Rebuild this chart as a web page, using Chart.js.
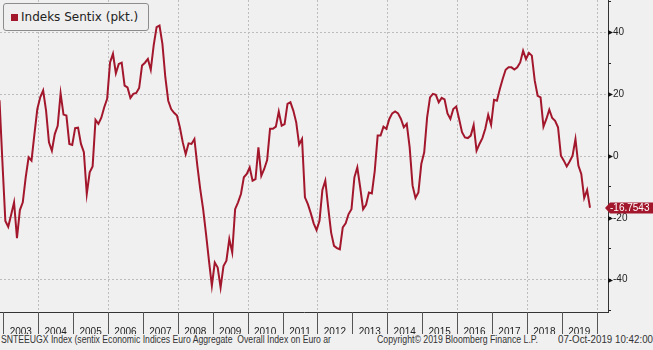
<!DOCTYPE html>
<html lang="pl">
<head>
<meta charset="UTF-8">
<title>Indeks Sentix</title>
<script src="https://cdn.jsdelivr.net/npm/chart.js@4.4.0/dist/chart.umd.min.js"></script>
<style>
  html, body { margin: 0; padding: 0; background: #f0f0f0; }
  body { width: 653px; height: 350px; position: relative; overflow: hidden; }
  #wrap { position: absolute; left: 0; top: 0; width: 653px; height: 334px; }
  #legend {
    position: absolute; left: 3px; top: 3px; width: 146px; height: 28px;
    box-sizing: border-box; border: 1px solid #8c8c8c; border-radius: 3px;
    background: #efefef; font: 12px "DejaVu Sans", sans-serif; color: #222;
    display: flex; align-items: center; padding-left: 7px;
  }
  #legend i { width: 7px; height: 7px; background: #a3172d; margin-right: 3px; }
  .foot {
    position: absolute; top: 334px; font: 10px "Liberation Sans", sans-serif;
    line-height: 11px; color: #333; white-space: pre; transform-origin: 0 0;
  }
</style>
</head>
<body>
<div id="wrap"><canvas id="chart"></canvas></div>
<div id="legend"><i></i>Indeks Sentix (pkt.)</div>
<span class="foot" data-w="330" style="left:1px">SNTEEUGX Index (sentix Economic Indices Euro Aggregate  Overall Index on Euro ar</span>
<span class="foot" data-w="161" style="left:377px">Copyright© 2019 Bloomberg Finance L.P.</span>
<span class="foot" data-w="95" style="left:558px">07-Oct-2019 10:42:00</span>

<script>
// monthly sentix readings, Nov 2002 .. Oct 2019
const start = 2002 + 10.7 / 12;
const sentix = [
  18, -2,
  -21, -22.9, -19, -15, -26.6, -17.5, -15, -6.9, -0.4, -1.5, 7.1, 15.2,
  19, 21.2, 14.7, 4.4, 1.7, 7.1, 9.8, 20.3, 13.4, 13.1, 3.9, 3.6,
  9, 9.2, 3.9, 1.2, -12.3, -5.3, -3.4, 11.7, 10.4, 12.4, 15.8, 18.5,
  30.3, 33.1, 26.8, 29.8, 30.2, 22.8, 22.2, 18.8, 20.1, 20.4, 22, 29.3,
  30.2, 31.4, 27.9, 35.8, 41.7, 42.2, 36.3, 25.5, 17.9, 15.2, 14, 13.1,
  9.3, 4.4, 0.6, 4.1, 3.9, 5.5, -3.1, -10.7, -17.2, -25.3, -33.9, -42,
  -34.5, -36.1, -42.6, -35.6, -33.9, -26.9, -31.2, -17.2, -15, -12.3, -6.9, -5.8,
  -3.7, -8, -7.5, 2.8, -6.4, -4.2, -1.3, 8.8, 8.8, 9.5, 14.4, 9.8,
  10.3, 16.9, 17.4, 14.7, 10.9, 3.7, 5.5, -13.4, -15.6, -18.5, -21.8, -24,
  -21, -11, -8, -16.7, -24.8, -29.1, -29.8, -30.2, -23.1, -21.8, -18.8, -17.2,
  -6.9, -3.7, -10.2, -17.2, -15.8, -11.8, -12.1, -4.8, 6.6, 6.6, 9.5, 8.8,
  12, 13.8, 14.4, 13.8, 12, 9.3, 10.4, 2.8, -9.6, -13.6, -11.8, -2.6,
  1.2, 12.5, 19, 20.1, 19.8, 17.4, 18.8, 18.3, 13.8, 12, 15.2, 16,
  12, 7.7, 6, 5.8, 6.6, 10, 1.7, 3.9, 5.8, 8.8, 13.3, 10.1,
  18.2, 17.9, 21.7, 25, 27.9, 28.7, 28.7, 28, 28.7, 30.3, 34.1, 31.4,
  33.4, 32.5, 24.4, 19.5, 19, 9.5, 12, 15, 12.3, 11.4, 9.3, 0.1,
  -1.5, -3.4, -1.8, 0.1, 5.5, -3.1, -5.8, -13.6, -11, -16.7543
];
const years = [2003, 2004, 2005, 2006, 2007, 2008, 2009, 2010, 2011,
               2012, 2013, 2014, 2015, 2016, 2017, 2018, 2019];
const yTicks = [-50, -40, -30, -20, -10, 0, 10, 20, 30, 40, 50];
const yLabelled = [-40, -20, 0, 20, 40];

const red = '#a3172d';
const tickFont = { family: '"Liberation Sans", sans-serif', size: 10 };

// dotted year grid, year boxes under the axis, arrow ticks and last value tag
const frame = {
  id: 'frame',
  beforeDatasetsDraw(chart) {
    const { ctx, chartArea: a, scales: { x } } = chart;
    ctx.save();
    ctx.strokeStyle = '#bdbdbd';
    ctx.lineWidth = 1;
    ctx.setLineDash([2, 2]);
    for (let yr = Math.ceil(x.min); yr <= x.max; yr++) {
      if (yr % 2) continue;
      const px = Math.round(x.getPixelForValue(yr)) + 0.5;
      ctx.beginPath(); ctx.moveTo(px, a.top); ctx.lineTo(px, a.bottom); ctx.stroke();
    }
    ctx.restore();
  },
  afterDraw(chart) {
    const { ctx, chartArea: a, scales: { x, y } } = chart;
    ctx.save();
    ctx.strokeStyle = '#555';
    ctx.lineWidth = 1;
    for (let yr = Math.ceil(x.min); yr <= x.max; yr++) {
      const px = Math.round(x.getPixelForValue(yr)) + 0.5;
      ctx.beginPath(); ctx.moveTo(px, a.bottom); ctx.lineTo(px, x.bottom); ctx.stroke();
    }
    ctx.fillStyle = '#111';
    yLabelled.forEach(v => {
      const py = Math.round(y.getPixelForValue(v)) + 0.5;
      ctx.beginPath();
      ctx.moveTo(a.right, py - 2.5); ctx.lineTo(a.right + 5, py); ctx.lineTo(a.right, py + 2.5);
      ctx.closePath(); ctx.fill();
    });
    const last = sentix[sentix.length - 1];
    const py = Math.round(y.getPixelForValue(last));
    ctx.fillStyle = red;
    ctx.beginPath();
    ctx.moveTo(a.right - 3, py);
    ctx.lineTo(a.right + 2, py - 5.5);
    ctx.lineTo(chart.width, py - 5.5);
    ctx.lineTo(chart.width, py + 5.5);
    ctx.lineTo(a.right + 2, py + 5.5);
    ctx.closePath(); ctx.fill();
    ctx.fillStyle = '#fff';
    ctx.font = '10px "Liberation Sans", sans-serif';
    ctx.textBaseline = 'middle';
    ctx.fillText(last.toFixed(4), a.right + 2, py + 0.5);
    ctx.restore();
  }
};

new Chart(document.getElementById('chart'), {
  type: 'line',
  data: {
    datasets: [{
      label: 'Indeks Sentix (pkt.)',
      data: sentix.map((v, i) => ({ x: start + i / 12, y: v })),
      borderColor: red,
      borderWidth: 2,
      pointRadius: 0,
      tension: 0
    }]
  },
  options: {
    responsive: true,
    maintainAspectRatio: false,
    animation: false,
    layout: { padding: 0, autoPadding: false },
    plugins: { legend: { display: false }, tooltip: { enabled: false } },
    scales: {
      x: {
        type: 'linear',
        min: 2003 - 3.3 / 34.906,
        max: 2003 - 3.3 / 34.906 + 608 / 34.906,
        afterBuildTicks: s => { s.ticks = years.map(yr => ({ value: yr + 0.5 })); },
        afterFit: s => { s.height = 22; s.paddingLeft = 0; s.paddingRight = 0; },
        grid: { display: false },
        border: { display: true, color: '#333', width: 1 },
        ticks: {
          autoSkip: false, maxRotation: 0, padding: 6,
          font: tickFont, color: '#222',
          callback: (v, i) => String(years[i])
        }
      },
      y: {
        position: 'right',
        min: -50.5,
        max: 50.5,
        afterBuildTicks: s => { s.ticks = yTicks.map(v => ({ value: v })); },
        afterFit: s => { s.width = 45; s.paddingTop = 0; s.paddingBottom = 0; },
        grid: {
          color: c => yLabelled.includes(c.tick.value) ? '#bdbdbd' : 'rgba(0,0,0,0)',
          tickColor: '#222',
          tickLength: 3,
          tickBorderDash: []
        },
        border: { display: true, color: '#333', width: 1, dash: [2, 2] },
        ticks: {
          padding: 2, font: tickFont, color: '#222',
          callback: v => yLabelled.includes(v) ? String(v) : ''
        }
      }
    }
  },
  plugins: [frame]
});

// squeeze footer strings to the widths they take in the original
document.querySelectorAll('.foot').forEach(el => {
  const w = el.getBoundingClientRect().width;
  el.style.transform = 'scaleX(' + (el.dataset.w / w) + ')';
});
</script>
</body>
</html>
